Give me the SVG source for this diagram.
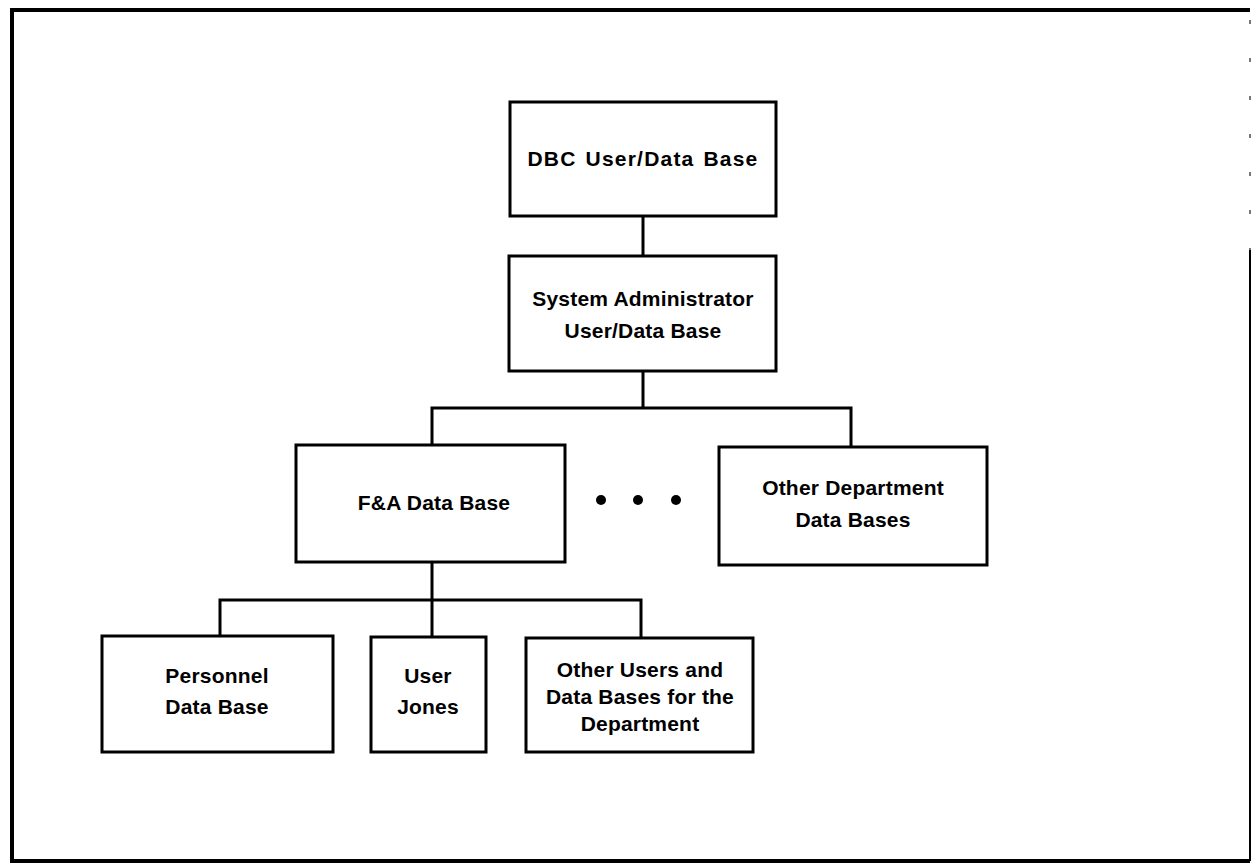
<svg xmlns="http://www.w3.org/2000/svg" width="1252" height="865" viewBox="0 0 1252 865">
  <style>
    .box { fill: #ffffff; stroke: #000000; stroke-width: 3; }
    .wire { fill: none; stroke: #000000; stroke-width: 3; }
    .frame { fill: none; stroke: #000000; stroke-width: 4; }
    .label { font-family: "Liberation Sans", Arial, Helvetica, sans-serif; font-size: 21px; font-weight: bold; letter-spacing: 0.2px; fill: #000000; text-anchor: middle; }
    .wide { letter-spacing: 1.2px; word-spacing: 2px; }
  </style>

  <rect x="0" y="0" width="1252" height="865" fill="#ffffff"/>

  <!-- page frame -->
  <g id="frame">
    <path class="frame" d="M1250,10 L12,10 L12,861 L1250,861"/>
    <line x1="1250" y1="20" x2="1250" y2="250" stroke="#777777" stroke-width="2" stroke-dasharray="4 34" />
    <line x1="1250" y1="250" x2="1250" y2="861" stroke="#000000" stroke-width="2" />
  </g>

  <!-- connectors -->
  <g id="connectors">
    <line class="wire" x1="643" y1="216" x2="643" y2="256"/>
    <path class="wire" d="M643,371 L643,408 M432,445 L432,408 L851,408 L851,447"/>
    <path class="wire" d="M432,562 L432,637 M220,636 L220,600 L641,600 L641,638"/>
  </g>

  <g id="dbc">
    <rect class="box" x="510" y="102" width="266" height="114"/>
    <text class="label wide" x="643" y="166">DBC User/Data Base</text>
  </g>

  <g id="sysadmin">
    <rect class="box" x="509" y="256" width="267" height="115"/>
    <text class="label" x="643" y="306">System Administrator</text>
    <text class="label" x="643" y="338">User/Data Base</text>
  </g>

  <g id="fa">
    <rect class="box" x="296" y="445" width="269" height="117"/>
    <text class="label" x="434" y="510">F&amp;A Data Base</text>
  </g>

  <g id="ellipsis">
    <circle cx="601" cy="500" r="5"/>
    <circle cx="638" cy="500" r="5"/>
    <circle cx="676" cy="500" r="5"/>
  </g>

  <g id="otherdept">
    <rect class="box" x="719" y="447" width="268" height="118"/>
    <text class="label" x="853" y="495">Other Department</text>
    <text class="label" x="853" y="527">Data Bases</text>
  </g>

  <g id="personnel">
    <rect class="box" x="102" y="636" width="231" height="116"/>
    <text class="label" x="217" y="683">Personnel</text>
    <text class="label" x="217" y="714">Data Base</text>
  </g>

  <g id="jones">
    <rect class="box" x="371" y="637" width="115" height="115"/>
    <text class="label" x="428" y="683">User</text>
    <text class="label" x="428" y="714">Jones</text>
  </g>

  <g id="otherusers">
    <rect class="box" x="526" y="638" width="227" height="114"/>
    <text class="label" x="640" y="677">Other Users and</text>
    <text class="label" x="640" y="704">Data Bases for the</text>
    <text class="label" x="640" y="731">Department</text>
  </g>
</svg>
